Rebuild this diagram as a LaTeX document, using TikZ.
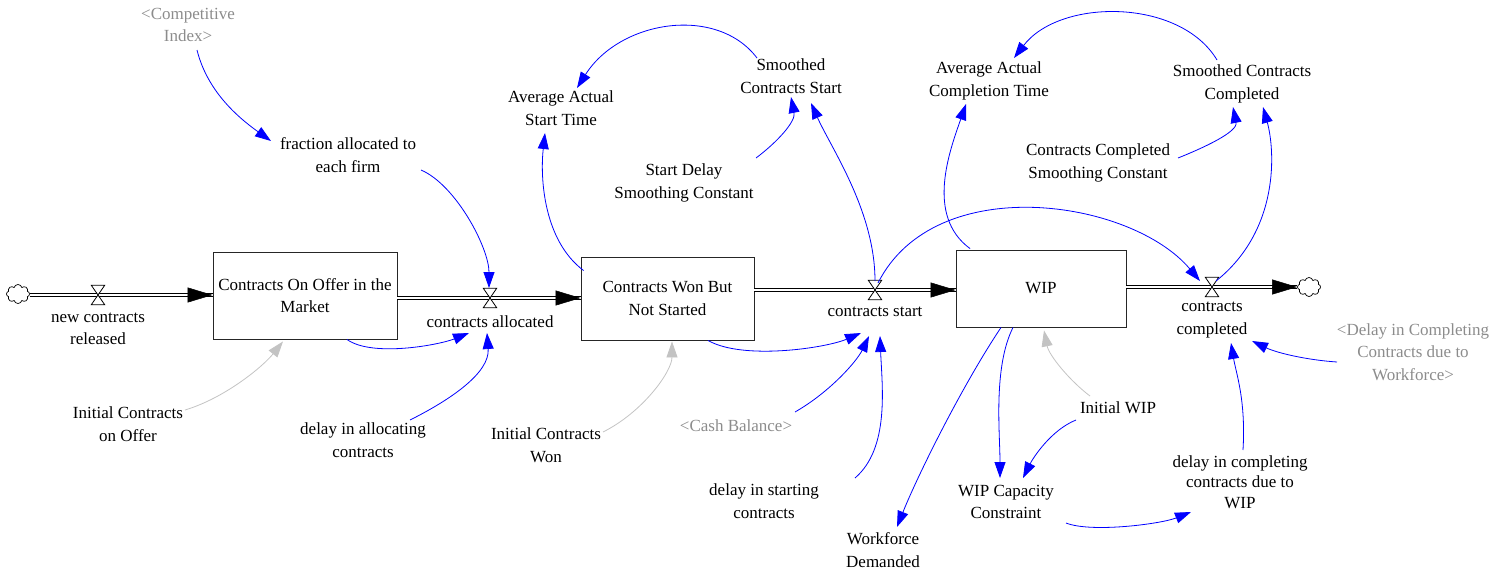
\documentclass[tikz,border=0pt]{standalone}
\usepackage{fontspec}
\setmainfont{Liberation Serif}
\usetikzlibrary{arrows.meta,shapes.symbols,calc}
\definecolor{lnkblue}{RGB}{0,0,255}
\definecolor{shadowtxt}{RGB}{140,140,140}
\definecolor{lnkgray}{RGB}{195,195,195}
\begin{document}
\begin{tikzpicture}[x=1pt,y=-1pt,
  var/.style={align=center, inner sep=1pt, font=\fontsize{17}{22.5}\selectfont},
  shadowvar/.style={var, text=shadowtxt},
  stock/.style={draw=black!85, line width=0.9pt, inner sep=0pt, align=center, font=\fontsize{17}{22.5}\selectfont},
  lnk/.style={draw=lnkblue, line width=0.8pt, -{Triangle[length=16pt,width=11pt]}},
  glnk/.style={lnk, draw=lnkgray},
  pipe/.style={draw=black, line width=1.1pt, double=white, double distance=2.4pt},
  pipehead/.style={line width=0.5pt, -{Triangle[length=25pt,width=15pt]}},
  valve/.style={inner sep=0pt, minimum width=13pt, minimum height=19pt},
  valveshape/.style={draw=black, line width=0.8pt, fill=white},
  cloudsrc/.style={cloud, cloud puffs=8, aspect=1.2, draw=black, line width=0.7pt, fill=white, minimum width=23pt, minimum height=19pt, inner sep=0pt}
]
\useasboundingbox (0,0) rectangle (1494,574);

% stocks
\node[stock, minimum width=184pt, minimum height=87pt] (S1) at (305,295.5) {Contracts On Offer in the\\Market};
\node[stock, minimum width=173pt, minimum height=83pt] (S2) at (667.5,298.5) {Contracts Won But\\Not Started};
\node[stock, minimum width=170pt, minimum height=77pt] (S3) at (1041,288.5) {WIP};

% clouds
\node[cloudsrc] (cl1) at (18,294) {};
\node[cloudsrc] (cl2) at (1309,287) {};

% valves (positions)
\node[valve] (v1) at (98,295) {};
\node[valve] (v2) at (490,298) {};
\node[valve] (v3) at (875,290) {};
\node[valve] (v4) at (1212,287) {};

% pipes
\draw[pipe] (cl1.east |- v1) -- (S1.west |- v1);
\draw[pipehead] ($(S1.west |- v1)+(-25,0)$) -- (S1.west |- v1);
\draw[pipe] (S1.east |- v2) -- (S2.west |- v2);
\draw[pipehead] ($(S2.west |- v2)+(-25,0)$) -- (S2.west |- v2);
\draw[pipe] (S2.east |- v3) -- (S3.west |- v3);
\draw[pipehead] ($(S3.west |- v3)+(-25,0)$) -- (S3.west |- v3);
\draw[pipe] (S3.east |- v4) -- (cl2.west |- v4);
\draw[pipehead] ($(cl2.west |- v4)+(-25,0)$) -- (cl2.west |- v4);

% valve shapes
\foreach \v in {v1,v2,v3,v4}{
  \draw[valveshape] (\v.north west) -- (\v.north east) -- (\v.south west) -- (\v.south east) -- cycle;
}

% flow labels
\node[var] (ncr) at (98,329) {new contracts\\released};
\node[var] (ca) at (490,322) {contracts allocated};
\node[var] (cs) at (875,312) {contracts start};
\node[var] (cc) at (1212,320) {contracts\\completed};

% auxiliaries
\node[shadowvar] (comp) at (188,25) {<Competitive\\Index>};
\node[var] (frac) at (348,155) {fraction allocated to\\each firm};
\node[var] (aast) at (561,108) {Average Actual\\Start Time};
\node[var] (scs) at (791,76) {Smoothed\\Contracts Start};
\node[var] (sdsc) at (684,183) {Start Delay\\Smoothing Constant};
\node[var] (aact) at (989,81) {Average Actual\\Completion Time};
\node[var] (scc) at (1242,84) {Smoothed Contracts\\Completed};
\node[var] (ccsc) at (1098,163) {Contracts Completed\\Smoothing Constant};
\node[var] (icoo) at (128,424) {Initial Contracts\\on Offer};
\node[var] (dia) at (363,440) {delay in allocating\\contracts};
\node[var] (icw) at (546,445) {Initial Contracts\\Won};
\node[shadowvar] (cash) at (736,426) {<Cash Balance>};
\node[var] (dis) at (764,501) {delay in starting\\contracts};
\node[var] (wd) at (883,550) {Workforce\\Demanded};
\node[var] (iwip) at (1118,408) {Initial WIP};
\node[var] (wcc) at (1006,502) {WIP Capacity\\Constraint};
\node[var, font=\fontsize{17}{20.5}\selectfont] (dcw) at (1240,482) {delay in completing\\contracts due to\\WIP};
\node[shadowvar] (dccw) at (1413,352) {<Delay in Completing\\Contracts due to\\Workforce>};

% connectors
\draw[lnk] ($(comp)+(9,25)$) .. controls +(10,40) and +(-35,-25) .. ($(frac)+(-77,-14)$);
\draw[lnk] ($(frac)+(73,15)$) .. controls +(35,15) and +(0,-40) .. ($(v2)+(-1,-10)$);
\draw[lnk] ($(S1.south)+(42,0)$) .. controls +(25,18) and +(-30,12) .. ($(ca)+(-21,11)$);
\draw[lnk] ($(dia)+(47,-20)$) .. controls +(40,-20) and +(3,40) .. ($(ca)+(-3,11)$);
\draw[glnk] ($(icoo)+(57,-14)$) .. controls +(40,-12) and +(-20,25) .. ($(S1.south)+(-22,2)$);
\draw[lnk] ($(S2.west)+(3,-28)$) .. controls +(-40,-30) and +(-5,45) .. ($(aast)+(-16,25)$);
\draw[lnk] ($(scs)+(-34,-18)$) .. controls +(-40,-53) and +(43,-68) .. ($(aast)+(16,-20)$);
\draw[lnk] ($(sdsc)+(72,-25)$) .. controls +(20,-15) and +(5,25) .. ($(scs)+(0,21)$);
\draw[lnk] ($(v3)+(0,-9)$) .. controls +(0,-70) and +(20,45) .. ($(scs)+(20,27)$);
\draw[lnk] ($(S2.south)+(40.5,0)$) .. controls +(35,20) and +(-35,15) .. ($(cs)+(-14,21)$);
\draw[lnk] ($(cash)+(59,-14)$) .. controls +(35,-20) and +(-12,25) .. ($(cs)+(-6,24)$);
\draw[lnk] ($(dis)+(91,-23)$) .. controls +(35,-30) and +(2,50) .. ($(cs)+(5,24)$);
\draw[glnk] ($(icw)+(57,-13)$) .. controls +(40,-20) and +(0,30) .. ($(S2.south)+(4.5,1)$);
\draw[lnk] ($(v3)+(3,-7)$) .. controls +(57,-113) and +(-69,-82) .. ($(v4)+(-12,-6)$);
\draw[lnk] ($(S3.north)+(-71,-1)$) .. controls +(-45,-33) and +(-16,46) .. ($(aact)+(-23,23)$);
\draw[lnk] ($(scc)+(-25,-24)$) .. controls +(-37,-62) and +(46,-60) .. ($(aact)+(25,-23)$);
\draw[lnk] ($(ccsc)+(80,-5)$) .. controls +(25,-10) and +(5,25) .. ($(scc)+(-9,23)$);
\draw[lnk] ($(v4)+(4,-6)$) .. controls +(64,-51) and +(12,43) .. ($(scc)+(21,23)$);
\draw[lnk] ($(dccw)+(-76,10)$) .. controls +(-30,-2) and +(25,12) .. ($(cc)+(40,21)$);
\draw[lnk] ($(dcw)+(3,-32)$) .. controls +(3,-50) and +(5,30) .. ($(cc)+(19,23)$);
\draw[lnk] ($(wcc)+(60,21)$) .. controls +(25,10) and +(-30,12) .. ($(dcw)+(-49,30)$);
\draw[lnk] ($(iwip)+(-42,12)$) .. controls +(-25,10) and +(10,-20) .. ($(wcc)+(17,-24)$);
\draw[lnk] ($(S3.south)+(-28,0)$) .. controls +(-20,40) and +(0,-45) .. ($(wcc)+(-6,-24)$);
\draw[lnk] ($(S3.south)+(-40,0)$) .. controls +(-40,60) and +(20,-50) .. ($(wd)+(14,-23)$);
\draw[glnk] ($(iwip)+(-28,-12)$) .. controls +(-20,-15) and +(5,25) .. ($(S3.south)+(3,3)$);
\end{tikzpicture}
\end{document}
